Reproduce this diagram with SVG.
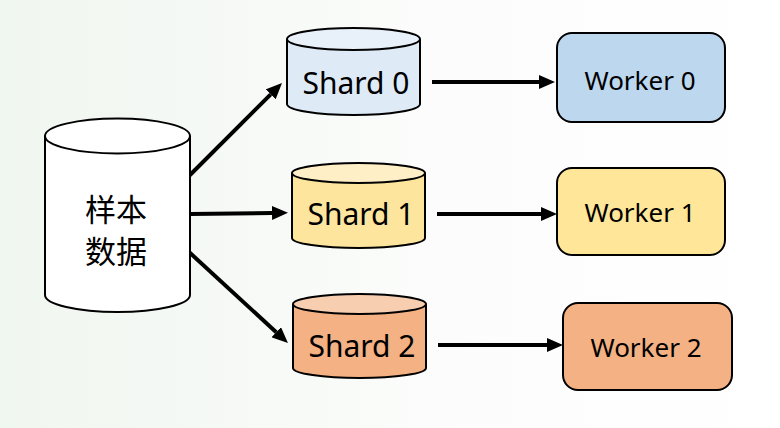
<svg xmlns="http://www.w3.org/2000/svg" width="780" height="428" viewBox="0 0 780 428">
  <defs>
    <linearGradient id="bg" x1="0" y1="0" x2="1" y2="0">
      <stop offset="0" stop-color="#f0f6f0"/>
      <stop offset="0.55" stop-color="#fbfcfb"/>
      <stop offset="1" stop-color="#ffffff"/>
    </linearGradient>
    <marker id="ah" markerUnits="userSpaceOnUse" markerWidth="16" markerHeight="14" viewBox="0 -7 16 14" refX="0" refY="0" orient="auto">
      <path d="M0,-7 L16,0 L0,7 z" fill="#000"/>
    </marker>
    <style>
      .edge { stroke: #000; stroke-width: 4; fill: none; marker-end: url(#ah); }
      .shape { stroke: #000; stroke-width: 2; }
      .lbl { font-family: "Noto Sans", "Liberation Sans", "Noto Sans CJK SC", sans-serif; fill: #000; text-anchor: middle; }
      .cjk { font-family: "Noto Sans CJK SC", "Noto Sans", sans-serif; font-size: 31px; fill: #000; text-anchor: middle; }
      .shard { font-size: 30px; }
      .worker { font-size: 26px; }
    </style>
  </defs>

  <rect x="0" y="0" width="780" height="428" fill="url(#bg)"/>

  <g id="connectors">
    <line class="edge" x1="189" y1="176" x2="270.7" y2="94.3"/>
    <line class="edge" x1="190" y1="214" x2="272" y2="213"/>
    <line class="edge" x1="189" y1="252" x2="276.2" y2="332.2"/>
    <line class="edge" x1="432" y1="82" x2="539" y2="82"/>
    <line class="edge" x1="437" y1="214" x2="541" y2="214"/>
    <line class="edge" x1="438" y1="345" x2="547" y2="345"/>
  </g>

  <g id="sample-data">
    <path class="shape" fill="#ffffff" d="M45,136 L45,295 A72.5,17 0 0 0 190,295 L190,136"/>
    <ellipse class="shape" fill="#ffffff" cx="117.5" cy="136" rx="72.5" ry="17.5"/>
    <text class="cjk" x="116" y="221">样本</text>
    <text class="cjk" x="116" y="263">数据</text>
  </g>

  <g id="shard0">
    <path class="shape" fill="#deebf7" d="M287,39 L287,104 A66.5,11 0 0 0 420,104 L420,39"/>
    <ellipse class="shape" fill="#e8f1fa" cx="353.5" cy="39" rx="66.5" ry="11"/>
    <text class="lbl shard" x="356" y="94">Shard 0</text>
  </g>

  <g id="shard1">
    <path class="shape" fill="#fee59e" d="M292,173 L292,238 A66.5,10 0 0 0 425,238 L425,173"/>
    <ellipse class="shape" fill="#feefc6" cx="358.5" cy="173" rx="66.5" ry="10"/>
    <text class="lbl shard" x="361" y="225">Shard 1</text>
  </g>

  <g id="shard2">
    <path class="shape" fill="#f4b183" d="M293,304 L293,368 A66.5,10 0 0 0 426,368 L426,304"/>
    <ellipse class="shape" fill="#f8ceb1" cx="359.5" cy="304" rx="66.5" ry="10"/>
    <text class="lbl shard" x="362" y="357">Shard 2</text>
  </g>

  <g id="worker0">
    <rect class="shape" fill="#bdd7ee" x="557" y="33" width="168" height="89" rx="15" ry="15"/>
    <text class="lbl worker" x="640" y="90">Worker 0</text>
  </g>

  <g id="worker1">
    <rect class="shape" fill="#ffe699" x="557" y="168" width="168" height="87" rx="15" ry="15"/>
    <text class="lbl worker" x="640" y="222">Worker 1</text>
  </g>

  <g id="worker2">
    <rect class="shape" fill="#f4b183" x="563" y="303" width="169" height="87" rx="15" ry="15"/>
    <text class="lbl worker" x="646" y="357">Worker 2</text>
  </g>
</svg>
